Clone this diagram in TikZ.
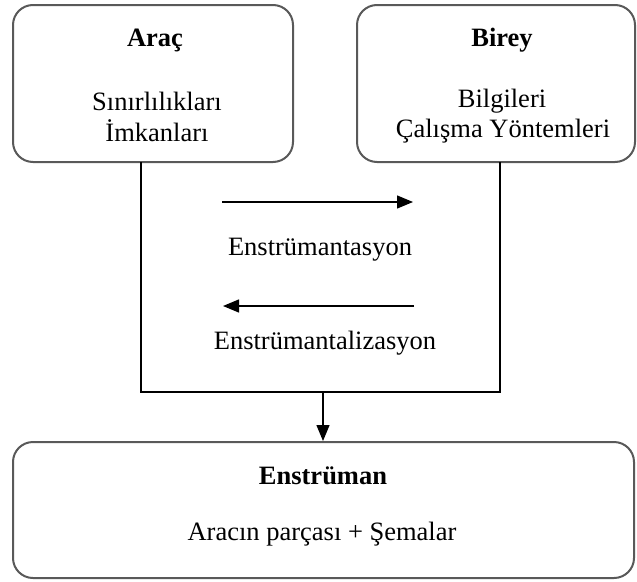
\documentclass[tikz,border=0pt]{standalone}
\usepackage{fontspec}
\setmainfont{Liberation Serif}
\usetikzlibrary{arrows.meta}
\begin{document}
\begin{tikzpicture}[x=1pt,y=-1pt,
  rbox/.style={draw=black!65, line width=2pt, rounded corners=20pt, inner sep=0pt},
  txt/.style={font=\fontsize{26.5}{30}\selectfont, inner sep=0pt, anchor=center},
  bold/.style={font=\fontsize{26.5}{30}\selectfont\bfseries},
  frame/.style={draw=black, line width=1.3pt},
  arr/.style={frame, -{Triangle[length=16pt,width=13pt]}}]
\useasboundingbox (0,0) rectangle (637,581);
% boxes
\node[rbox, minimum width=280pt, minimum height=157pt] (arac) at (153,83.5) {};
\node[rbox, minimum width=278pt, minimum height=157pt] (birey) at (496,83.5) {};
\node[rbox, minimum width=621pt, minimum height=136pt] (enst) at (323.5,510) {};
% texts
\node[txt, bold] (t1) at (155,40) {Araç};
\node[txt] (t2) at (157,101) {Sınırlılıkları};
\node[txt] (t3) at (157,131) {İmkanları};
\node[txt, bold] (t4) at (502,40) {Birey};
\node[txt] (t5) at (502,101) {Bilgileri};
\node[txt] (t6) at (503,131) {Çalışma Yöntemleri};
\node[txt, bold] (t7) at (323,476) {Enstrüman};
\node[txt] (t8) at (322,534) {Aracın parçası + Şemalar};
\node[txt] (t9) at (320,250) {Enstrümantasyon};
\node[txt] (t10) at (325,343) {Enstrümantalizasyon};
% frame
\coordinate (fa) at (141,162);
\coordinate (fb) at (141,392);
\coordinate (fc) at (500,392);
\coordinate (fd) at (500,162);
\coordinate (fm) at (323,392);
\draw[frame] (fa) -- (fb) -- (fc) -- (fd);
% arrows
\coordinate (a1s) at (222,202);
\coordinate (a1e) at (413,202);
\coordinate (a2s) at (414,306);
\coordinate (a2e) at (223,306);
\draw[arr] (a1s) -- (a1e);
\draw[arr] (a2s) -- (a2e);
\draw[arr] (fm) -- (enst.north -| fm);
\end{tikzpicture}
\end{document}
